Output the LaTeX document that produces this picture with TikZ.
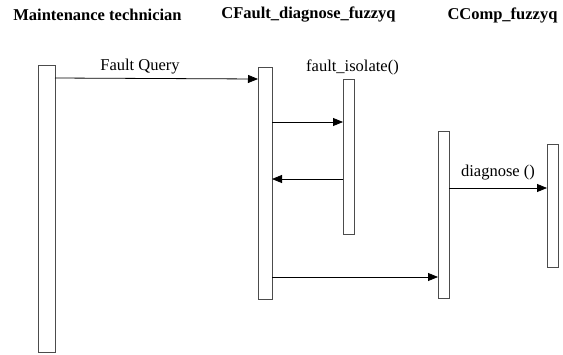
\documentclass[tikz,border=0pt]{standalone}
\usepackage{fontspec}
\setmainfont{Liberation Serif}
\usetikzlibrary{arrows.meta}
\begin{document}
\begin{tikzpicture}[x=1pt,y=-1pt,
  lifebox/.style={draw=black!70,line width=0.9pt,fill=white},
  msg/.style={draw=black,line width=0.8pt,-{Triangle[length=10pt,width=8pt]}},
  head/.style={font=\fontsize{16.5}{18}\selectfont\bfseries,inner sep=0pt},
  lbl/.style={font=\fontsize{16.5}{18}\selectfont,inner sep=0pt}]
\useasboundingbox (0,0) rectangle (563,354);
% object headers
\node[head] (h1) at (97.5,15) {Maintenance technician};
\node[head] (h2) at (308.5,15) {CFault\_diagnose\_fuzzyq};
\node[head] (h3) at (502.5,15) {CComp\_fuzzyq};
% activation bars
\draw[lifebox] (38,65) rectangle (55,352);
\draw[lifebox] (258,67) rectangle (272,299);
\draw[lifebox] (343,79) rectangle (354,234);
\draw[lifebox] (438,131) rectangle (449,298);
\draw[lifebox] (547,144) rectangle (558,267);
% message anchors
\coordinate (a1) at (55,78);   \coordinate (b1) at (258,79);
\coordinate (a2) at (272,122); \coordinate (b2) at (343,122);
\coordinate (a3) at (343,179); \coordinate (b3) at (272,179);
\coordinate (a4) at (272,277); \coordinate (b4) at (438,277);
\coordinate (a5) at (449,188); \coordinate (b5) at (547,188);
% messages
\draw[msg] (a1) -- (b1);
\draw[msg] (a2) -- (b2);
\draw[msg] (a3) -- (b3);
\draw[msg] (a4) -- (b4);
\draw[msg] (a5) -- (b5);
% message labels
\node[lbl] (l1) at (140,67) {Fault Query};
\node[lbl] (l2) at (352.5,67) {fault\_isolate()};
\node[lbl] (l3) at (498,173) {diagnose ()};
\end{tikzpicture}
\end{document}
